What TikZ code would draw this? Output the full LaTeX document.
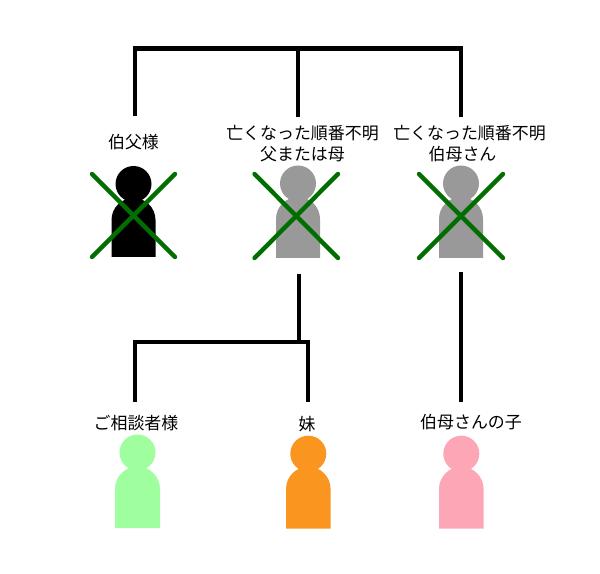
\documentclass[tikz,border=0pt]{standalone}
\usepackage{fontspec}
\newfontfamily\cjk{Noto Sans CJK JP}
\definecolor{pgray}{RGB}{153,153,153}
\definecolor{pgreen}{RGB}{159,255,159}
\definecolor{porange}{RGB}{250,150,32}
\definecolor{ppink}{RGB}{253,166,181}
\definecolor{xgreen}{RGB}{0,110,0}
\tikzset{
  conn/.style={line width=3.2pt, line cap=butt, line join=miter, draw=black},
  lab/.style={font=\cjk\fontsize{12.7pt}{16.2pt}\selectfont, align=center, inner sep=0pt},
  xmark/.style={line width=3.3pt, line cap=round, draw=xgreen},
}
% #1 colour, #2 centre x, #3 head centre y, #4 centre y of body arc, #5 bottom y, #6 half width
\newcommand{\personshape}[6]{%
  \fill[#1] (#2,#3) circle[radius=18];
  \fill[#1] (#2-#6,#5) -- (#2-#6,#4) arc[start angle=180,end angle=360,radius=#6] -- (#2+#6,#5) -- cycle;
}
\begin{document}
\begin{tikzpicture}[x=0.75pt,y=-0.75pt]
\useasboundingbox (0,0) rectangle (600,574);
\fill[white] (0,0) rectangle (600,574);
% labels
\node[lab] (l1) at (133.5,142) {伯父様};
\node[lab] (l2) at (302.5,143.5) {亡くなった順番不明\\父または母};
\node[lab] (l3) at (469.5,143.5) {亡くなった順番不明\\伯母さん\hspace*{10.5pt}};
\node[lab] (l4) at (136,423) {ご相談者様};
\node[lab] (l5) at (307,424) {妹};
\node[lab] (l6) at (471,422) {伯母さんの子};
% people
\personshape{black}{133.5}{184}{220}{257}{22}
\personshape{pgray}{298}{183.5}{219}{258}{22}
\personshape{pgray}{461}{183.5}{219}{258}{22}
\personshape{pgreen}{137.5}{452.5}{489}{528}{22.5}
\personshape{porange}{308.3}{453.7}{489}{528.5}{22.3}
\personshape{ppink}{461.3}{453.7}{489}{528.5}{22.3}
% crosses
\coordinate (xa1) at (92,174); \coordinate (xa2) at (175,257);
\coordinate (xa3) at (175,174); \coordinate (xa4) at (92,257);
\coordinate (xb1) at (254.5,174); \coordinate (xb2) at (338,258);
\coordinate (xb3) at (338,174); \coordinate (xb4) at (254.5,258);
\coordinate (xc1) at (419,174); \coordinate (xc2) at (503,258);
\coordinate (xc3) at (503,174); \coordinate (xc4) at (419,258);
\draw[xmark] (xa1) -- (xa2); \draw[xmark] (xa3) -- (xa4);
\draw[xmark] (xb1) -- (xb2); \draw[xmark] (xb3) -- (xb4);
\draw[xmark] (xc1) -- (xc2); \draw[xmark] (xc3) -- (xc4);
% connectors
\coordinate (ta) at (135,116); \coordinate (tb) at (298,117); \coordinate (tc) at (461,117);
\coordinate (ua) at (135,48.5);  \coordinate (ub) at (298,48.5);  \coordinate (uc) at (461,48.5);
\draw[conn] (ta) -- (ua) -- (uc) -- (tc);
\draw[conn] (ub) -- (tb);
\coordinate (pa) at (299,274); \coordinate (pb) at (299,342);
\coordinate (da) at (135,402); \coordinate (ma) at (135,342);
\coordinate (db) at (308,402); \coordinate (mb) at (308,342);
\draw[conn] (pa) -- (pb);
\draw[conn] (da) -- (ma) -- (mb) -- (db);
\coordinate (ra) at (461,272); \coordinate (rb) at (461,402);
\draw[conn] (ra) -- (rb);
\end{tikzpicture}
\end{document}
